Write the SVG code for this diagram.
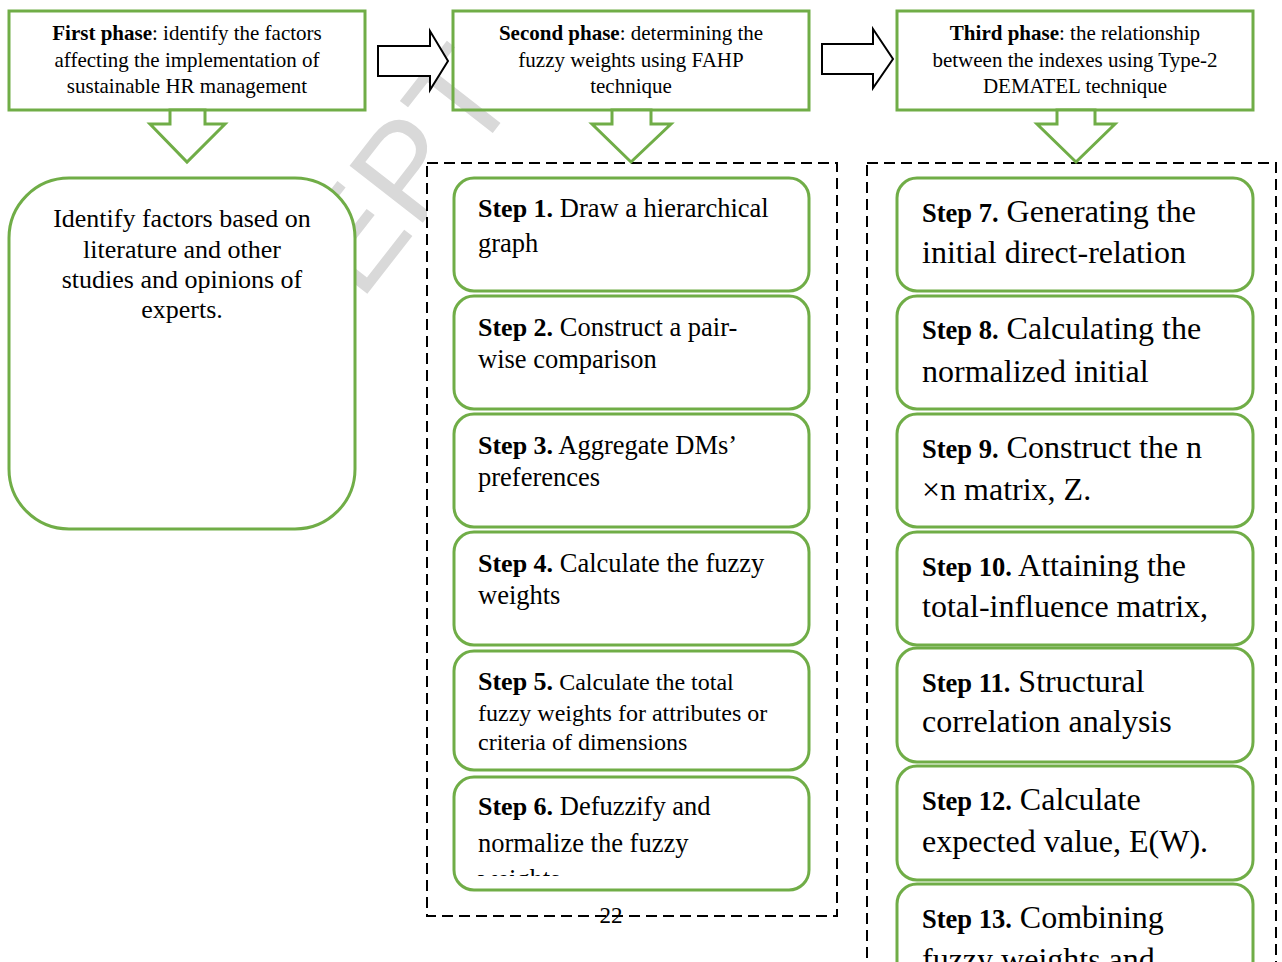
<svg xmlns="http://www.w3.org/2000/svg" width="1282" height="962" viewBox="0 0 1282 962">
<defs>
<style>
.phase{fill:none;stroke:#70ad47;stroke-width:3}
.rbox{fill:#fff;stroke:#70ad47;stroke-width:3}
.cont{fill:#fff;stroke:#000;stroke-width:2;stroke-dasharray:11 6}
.garrow{fill:#fff;stroke:#70ad47;stroke-width:3;stroke-linejoin:miter}
.karrow{fill:#fff;stroke:#000;stroke-width:2;stroke-linejoin:miter}
text{font-family:"Liberation Serif","Times New Roman",serif;fill:#000}
.ph{font-size:21px;text-anchor:middle}
.b{font-weight:bold}
.s1{font-size:26px;text-anchor:middle}
.s2{font-size:26.5px}
.s5{font-size:24px}
.b2{font-size:26px;font-weight:bold}
.s3{font-size:32px}
.b3{font-size:26.5px;font-weight:bold}
.wm{font-family:"Liberation Sans",Arial,sans-serif;font-size:135px;fill:#d9d9d9}
</style>
<clipPath id="wmclip"><rect x="-20" y="-200" width="567" height="260"/></clipPath>
<clipPath id="clip6"><rect x="454" y="778" width="356" height="98"/></clipPath>
</defs>

<g id="watermark" transform="translate(185,527) rotate(-52)" clip-path="url(#wmclip)">
<text class="wm" x="0" y="0">ACCEPTED MANUSCRIPT</text>
</g>

<g id="container2"><rect class="cont" x="427" y="163" width="410" height="753"/></g>
<g id="container3"><rect class="cont" x="867" y="163" width="409" height="830"/></g>

<g id="phase1">
<rect class="phase" x="9" y="11" width="356" height="99"/>
<text class="ph" x="187" y="40"><tspan class="b">First phase</tspan>: identify the factors</text>
<text class="ph" x="187" y="67">affecting the implementation of</text>
<text class="ph" x="187" y="93">sustainable HR management</text>
</g>
<g id="phase2">
<rect class="phase" x="453" y="11" width="356" height="99"/>
<text class="ph" x="631" y="40"><tspan class="b">Second phase</tspan>: determining the</text>
<text class="ph" x="631" y="67">fuzzy weights using FAHP</text>
<text class="ph" x="631" y="93">technique</text>
</g>
<g id="phase3">
<rect class="phase" x="897" y="11" width="356" height="99"/>
<text class="ph" x="1075" y="40"><tspan class="b">Third phase</tspan>: the relationship</text>
<text class="ph" x="1075" y="67">between the indexes using Type-2</text>
<text class="ph" x="1075" y="93">DEMATEL technique</text>
</g>

<g id="identify">
<rect class="rbox" x="9" y="178" width="346" height="351" rx="60"/>
<text class="s1" x="182" y="227">Identify factors based on</text>
<text class="s1" x="182" y="258">literature and other</text>
<text class="s1" x="182" y="288">studies and opinions of</text>
<text class="s1" x="182" y="318">experts.</text>
</g>

<g id="step1">
<rect class="rbox" x="454" y="178" width="355" height="113" rx="20"/>
<text class="s2" x="478" y="217"><tspan class="b2">Step 1.</tspan> Draw a hierarchical</text>
<text class="s2" x="478" y="252">graph</text>
</g>
<g id="step2">
<rect class="rbox" x="454" y="296" width="355" height="113" rx="20"/>
<text class="s2" x="478" y="336"><tspan class="b2">Step 2.</tspan> Construct a pair-</text>
<text class="s2" x="478" y="368">wise comparison</text>
</g>
<g id="step3">
<rect class="rbox" x="454" y="414" width="355" height="113" rx="20"/>
<text class="s2" x="478" y="454"><tspan class="b2">Step 3.</tspan> Aggregate DMs’</text>
<text class="s2" x="478" y="486">preferences</text>
</g>
<g id="step4">
<rect class="rbox" x="454" y="532" width="355" height="113" rx="20"/>
<text class="s2" x="478" y="572"><tspan class="b2">Step 4.</tspan> Calculate the fuzzy</text>
<text class="s2" x="478" y="604">weights</text>
</g>
<g id="step5">
<rect class="rbox" x="454" y="651" width="355" height="119" rx="20"/>
<text class="s5" x="478" y="690"><tspan class="b2">Step 5.</tspan> Calculate the total</text>
<text class="s5" x="478" y="721">fuzzy weights for attributes or</text>
<text class="s5" x="478" y="750">criteria of dimensions</text>
</g>
<g id="step6">
<rect class="rbox" x="454" y="777" width="355" height="113" rx="20"/>
<g clip-path="url(#clip6)">
<text class="s2" x="478" y="815"><tspan class="b2">Step 6.</tspan> Defuzzify and</text>
<text class="s2" x="478" y="852">normalize the fuzzy</text>
<text class="s2" x="478" y="888">weights</text>
</g>
</g>

<g id="step7">
<rect class="rbox" x="897" y="178" width="356" height="113" rx="20"/>
<text class="s3" x="922" y="222"><tspan class="b3">Step 7.</tspan> Generating the</text>
<text class="s3" x="922" y="263">initial direct-relation</text>
</g>
<g id="step8">
<rect class="rbox" x="897" y="296" width="356" height="113" rx="20"/>
<text class="s3" x="922" y="339"><tspan class="b3">Step 8.</tspan> Calculating the</text>
<text class="s3" x="922" y="382">normalized initial</text>
</g>
<g id="step9">
<rect class="rbox" x="897" y="414" width="356" height="113" rx="20"/>
<text class="s3" x="922" y="458"><tspan class="b3">Step 9.</tspan> Construct the n</text>
<text class="s3" x="922" y="500">×n matrix, Z.</text>
</g>
<g id="step10">
<rect class="rbox" x="897" y="532" width="356" height="113" rx="20"/>
<text class="s3" x="922" y="576"><tspan class="b3">Step 10.</tspan> Attaining the</text>
<text class="s3" x="922" y="617">total-influence matrix,</text>
</g>
<g id="step11">
<rect class="rbox" x="897" y="648" width="356" height="114" rx="20"/>
<text class="s3" x="922" y="692"><tspan class="b3">Step 11.</tspan> Structural</text>
<text class="s3" x="922" y="732">correlation analysis</text>
</g>
<g id="step12">
<rect class="rbox" x="897" y="766" width="356" height="114" rx="20"/>
<text class="s3" x="922" y="810"><tspan class="b3">Step 12.</tspan> Calculate</text>
<text class="s3" x="922" y="852">expected value, E(W).</text>
</g>
<g id="step13">
<rect class="rbox" x="897" y="884" width="356" height="114" rx="20"/>
<text class="s3" x="922" y="928"><tspan class="b3">Step 13.</tspan> Combining</text>
<text class="s3" x="922" y="970">fuzzy weights and</text>
</g>

<g id="connectors">
<polygon class="garrow" points="170,110 170,124 150,124 187,162 225,124 205,124 205,110"/>
<polygon class="garrow" points="612,110 612,124 592,124 631,162 671,124 651,124 651,110"/>
<polygon class="garrow" points="1057,110 1057,124 1037,124 1076,162 1115,124 1095,124 1095,110"/>
<polygon class="karrow" points="378,46 430,46 430,31 448,61 430,90 430,76 378,76"/>
<polygon class="karrow" points="822,44 873,44 873,29 893,59 873,88 873,74 822,74"/>
</g>

<text x="611" y="923" font-size="23" text-anchor="middle">22</text>
</svg>
